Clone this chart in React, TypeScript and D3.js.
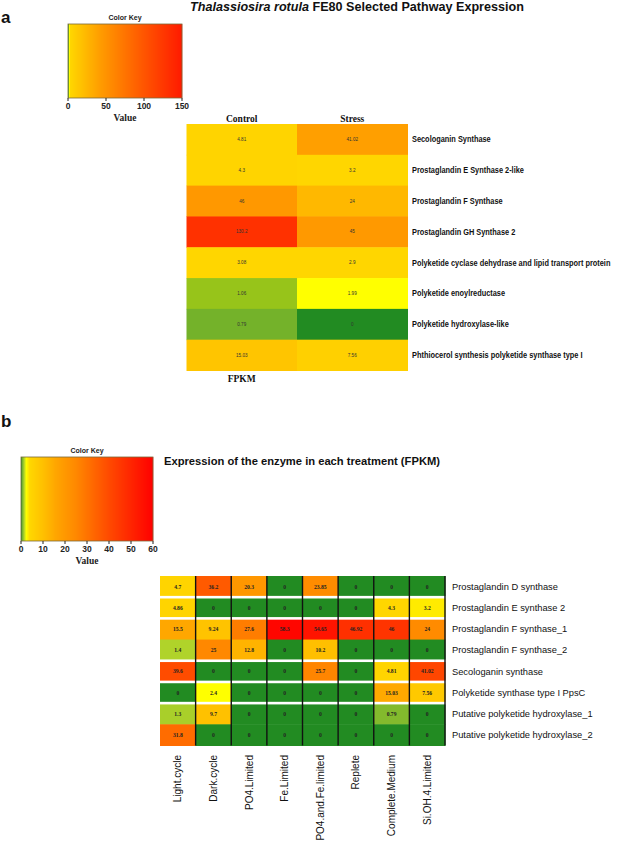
import React from "react";
import * as d3 from "d3";

// ---------- Panel a data ----------
const topGenes = [
  "Secologanin Synthase",
  "Prostaglandin E Synthase 2-like",
  "Prostaglandin F Synthase",
  "Prostaglandin GH Synthase 2",
  "Polyketide cyclase dehydrase and lipid transport protein",
  "Polyketide enoylreductase",
  "Polyketide hydroxylase-like",
  "Phthiocerol synthesis polyketide synthase type I",
];
const topConditions = ["Control", "Stress"];
const topControl = [4.81, 4.3, 46, 130.2, 3.08, 1.06, 0.79, 15.03];
const topStress = [41.02, 3.2, 24, 45, 2.9, 1.99, 0, 7.56];
const topKeyTicks = [0, 50, 100, 150];

// ---------- Panel b data ----------
const bottomGenes = [
  "Prostaglandin D synthase",
  "Prostaglandin E synthase 2",
  "Prostaglandin F synthase_1",
  "Prostaglandin F synthase_2",
  "Secologanin synthase",
  "Polyketide synthase type I PpsC",
  "Putative polyketide hydroxylase_1",
  "Putative polyketide hydroxylase_2",
];
const treatments = [
  "Light.cycle",
  "Dark.cycle",
  "PO4.Limited",
  "Fe.Limited",
  "PO4.and.Fe.limited",
  "Replete",
  "Complete.Medium",
  "Si.OH.4.Limited",
];
const lightCycle = [4.7, 4.86, 15.5, 1.4, 39.6, 0, 1.3, 31.8];
const darkCycle = [36.2, 0, 9.24, 25, 0, 2.4, 9.7, 0];
const po4Limited = [20.3, 0, 27.6, 12.8, 0, 0, 0, 0];
const feLimited = [0, 0, 58.3, 0, 0, 0, 0, 0];
const po4FeLimited = [23.85, 0, 54.65, 10.2, 25.7, 0, 0, 0];
const replete = [0, 0, 46.92, 0, 0, 0, 0, 0];
const completeMedium = [0, 4.3, 46, 0, 4.81, 15.03, 0.79, 0];
const siLimited = [0, 3.2, 24, 0, 41.02, 7.56, 0, 0];
const bottomKeyTicks = [0, 10, 20, 30, 40, 50, 60];
const rowSepAfter = [0, 1, 3, 4, 5];

const topColor = d3
  .scaleLinear<string>()
  .domain([0, 0.79, 1.06, 1.99, 2.5, 10, 45, 100, 150])
  .range(["#228B22", "#74B22A", "#97C41A", "#FFFF00", "#FFD700", "#FFCC00", "#FF9900", "#FF5500", "#FF1A00"])
  .clamp(true);

const bottomColor = d3
  .scaleLinear<string>()
  .domain([0, 0.5, 1.4, 2.4, 4, 10, 16, 25, 40, 60])
  .range(["#228B22", "#6DAE2E", "#B0D32A", "#FFFF00", "#FFD700", "#FFC000", "#FFA500", "#FF8800", "#FF4A00", "#FF0000"])
  .clamp(true);

const SANS = "'Liberation Sans', Arial, Helvetica, sans-serif";
const SERIF = "'Liberation Serif', 'Times New Roman', serif";

function ColorKey({ x0, x1, y0, y1, color, ticks, title }: any) {
  const dom = [ticks[0], ticks[ticks.length - 1]];
  const sx = d3.scaleLinear().domain(dom).range([x0, x1]);
  const n = Math.round(x1 - x0);
  const stripes = d3.range(n).map((i) => sx.invert(x0 + i + 0.5));
  return (
    <g>
      <text x={(x0 + x1) / 2} y={y0 - 4} fontFamily={SANS} fontWeight="bold" fontSize={7} textAnchor="middle" fill="#222">
        {title}
      </text>
      {stripes.map((v, i) => (
        <rect key={i} x={x0 + i} y={y0} width={1.2} height={y1 - y0} fill={color(v)} />
      ))}
      <rect x={x0} y={y0} width={x1 - x0} height={y1 - y0} fill="none" stroke="#7a6a3a" strokeWidth={0.8} />
      {ticks.map((t: number) => (
        <g key={t}>
          <line x1={sx(t)} x2={sx(t)} y1={y1} y2={y1 + 3} stroke="#222" strokeWidth={1} />
          <text x={sx(t)} y={y1 + 11} fontFamily={SANS} fontWeight="bold" fontSize={8.5} textAnchor="middle" fill="#222">
            {t}
          </text>
        </g>
      ))}
      <text x={(x0 + x1) / 2} y={y1 + 23} fontFamily={SERIF} fontWeight="bold" fontSize={9.5} textAnchor="middle" fill="#222">
        Value
      </text>
    </g>
  );
}

export default function App() {
  // Panel a heatmap
  const topCols = [topControl, topStress];
  const tx = d3.scaleBand().domain(topConditions).range([186.5, 407.5]);
  const ty = d3.scaleBand().domain(topGenes).range([124, 370.5]);

  // Panel b heatmap
  const bottomCols = [lightCycle, darkCycle, po4Limited, feLimited, po4FeLimited, replete, completeMedium, siLimited];
  const bx = d3.scaleBand().domain(treatments).range([160, 445]);
  const by = d3.scaleBand().domain(bottomGenes).range([576, 745.5]);

  return (
    <div style={{ position: "absolute", left: 0, top: 0 }}>
      <svg width={621} height={846} style={{ display: "block", background: "#fff" }}>
        <text x={1} y={23} fontFamily={SANS} fontWeight="bold" fontSize={17} fill="#111">a</text>
        <text x={190} y={11} fontFamily={SANS} fontWeight="bold" fontSize={12.6} fill="#111">
          <tspan fontStyle="italic">Thalassiosira rotula</tspan> FE80 Selected Pathway Expression
        </text>

        <ColorKey x0={68} x1={182} y0={24} y1={98} color={topColor} ticks={topKeyTicks} title="Color Key" />

        {topConditions.map((c) => (
          <text key={c} x={(tx(c) as number) + tx.bandwidth() / 2} y={122} fontFamily={SERIF} fontWeight="bold" fontSize={9.5} textAnchor="middle" fill="#111">
            {c}
          </text>
        ))}
        {topCols.map((col, ci) =>
          col.map((v, ri) => (
            <g key={`${ci}-${ri}`}>
              <rect x={tx(topConditions[ci])} y={ty(topGenes[ri])} width={tx.bandwidth() + 0.5} height={ty.bandwidth() + 0.5} fill={topColor(v)} />
              <text
                x={(tx(topConditions[ci]) as number) + tx.bandwidth() / 2}
                y={(ty(topGenes[ri]) as number) + ty.bandwidth() / 2 + 1.6}
                fontFamily={SANS}
                fontSize={4.6}
                textAnchor="middle"
                fill="#333"
              >
                {String(v)}
              </text>
            </g>
          ))
        )}
        {topGenes.map((g) => (
          <text
            key={g}
            transform={`translate(412,${(ty(g) as number) + ty.bandwidth() / 2 + 3}) scale(0.9,1)`}
            fontFamily={SANS}
            fontWeight="bold"
            fontSize={8.2}
            fill="#111"
          >
            {g}
          </text>
        ))}
        <text x={(tx("Control") as number) + tx.bandwidth() / 2} y={382} fontFamily={SERIF} fontWeight="bold" fontSize={9.5} textAnchor="middle" fill="#111">
          FPKM
        </text>

        {/* Panel b */}
        <text x={1} y={427} fontFamily={SANS} fontWeight="bold" fontSize={17} fill="#111">b</text>
        <ColorKey x0={21} x1={153} y0={457} y1={541} color={bottomColor} ticks={bottomKeyTicks} title="Color Key" />
        <text x={164} y={465} fontFamily={SANS} fontWeight="bold" fontSize={11.2} fill="#111">
          Expression of the enzyme in each treatment (FPKM)
        </text>

        {bottomCols.map((col, ci) =>
          col.map((v, ri) => (
            <g key={`b${ci}-${ri}`}>
              <rect x={bx(treatments[ci])} y={by(bottomGenes[ri])} width={bx.bandwidth() + 0.5} height={by.bandwidth() + 0.5} fill={bottomColor(v)} />
              <text
                x={(bx(treatments[ci]) as number) + bx.bandwidth() / 2}
                y={(by(bottomGenes[ri]) as number) + by.bandwidth() / 2 + 2}
                fontFamily={SERIF}
                fontWeight="bold"
                fontSize={5.6}
                textAnchor="middle"
                fill="#222"
              >
                {String(v)}
              </text>
            </g>
          ))
        )}
        {rowSepAfter.map((r) => (
          <rect key={`rs${r}`} x={160} y={(by(bottomGenes[r]) as number) + by.bandwidth() - 1.3} width={286} height={2.6} fill="#fff" />
        ))}
        {treatments.map((t) => (
          <line
            key={`cs${t}`}
            x1={(bx(t) as number) + bx.bandwidth()}
            x2={(bx(t) as number) + bx.bandwidth()}
            y1={576}
            y2={745.5}
            stroke="#111"
            strokeWidth={1.4}
          />
        ))}
        {bottomGenes.map((g) => (
          <text key={g} x={452} y={(by(g) as number) + by.bandwidth() / 2 + 3.3} fontFamily={SANS} fontSize={9.3} fill="#111">
            {g}
          </text>
        ))}
        {treatments.map((t) => {
          const cx = (bx(t) as number) + bx.bandwidth() / 2 + 3.5;
          return (
            <text key={`xl${t}`} transform={`translate(${cx},755) rotate(-90)`} fontFamily={SANS} fontSize={10} textAnchor="end" fill="#111">
              {t}
            </text>
          );
        })}
      </svg>
    </div>
  );
}
